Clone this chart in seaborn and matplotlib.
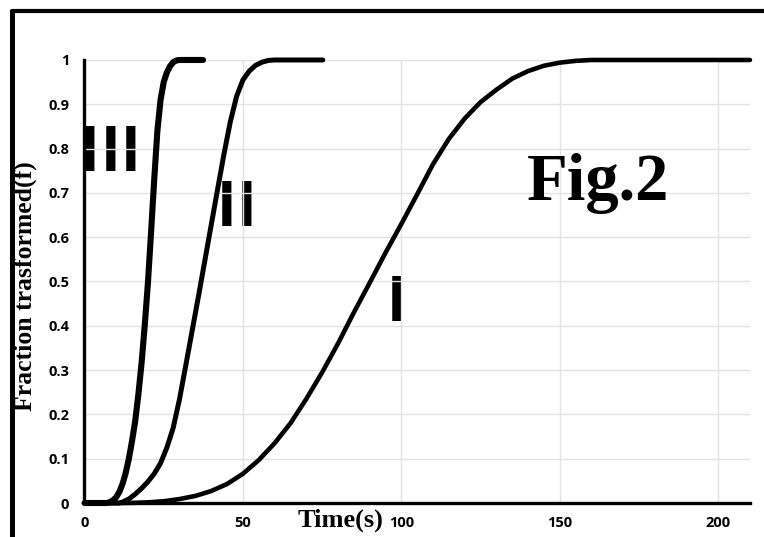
import pandas as pd
import seaborn as sns
import matplotlib.pyplot as plt
from matplotlib.lines import Line2D

# curve III (fastest)
t_3 = [0, 7, 8, 9, 10, 11, 12, 13, 14, 15, 16, 17, 18, 19, 20, 21, 22, 23, 24, 25, 26, 27, 28, 29, 30, 37.4]
f_3 = [0, 0, 0.002, 0.006, 0.013, 0.025, 0.043, 0.068, 0.10, 0.14, 0.185, 0.245, 0.315, 0.40, 0.495, 0.61, 0.73, 0.84, 0.91, 0.95, 0.972, 0.986, 0.995, 0.999, 1.0, 1.0]

# curve II
t_2 = [0, 11, 12, 14, 16, 18, 20, 22, 24, 26, 28, 30, 32, 34, 36, 38, 40, 42, 44, 46, 48, 50, 52, 54, 56, 58, 60, 75.2]
f_2 = [0, 0, 0.002, 0.009, 0.02, 0.033, 0.048, 0.066, 0.09, 0.125, 0.17, 0.235, 0.312, 0.39, 0.468, 0.548, 0.628, 0.708, 0.787, 0.86, 0.918, 0.955, 0.975, 0.988, 0.995, 0.999, 1.0, 1.0]

# curve I (slowest)
t_1 = [0, 10, 15, 20, 25, 30, 35, 40, 45, 50, 55, 60, 65, 70, 75, 80, 85, 90, 95, 100, 105, 110, 115, 120, 125, 130, 135, 140, 145, 150, 155, 160, 210]
f_1 = [0, 0, 0.0003, 0.0015, 0.004, 0.009, 0.016, 0.027, 0.043, 0.066, 0.097, 0.135, 0.18, 0.235, 0.295, 0.36, 0.43, 0.497, 0.565, 0.63, 0.697, 0.765, 0.822, 0.868, 0.905, 0.933, 0.958, 0.975, 0.987, 0.994, 0.998, 1.0, 1.0]

x_ticks = [0, 50, 100, 150, 200]
y_ticks = [0, 0.1, 0.2, 0.3, 0.4, 0.5, 0.6, 0.7, 0.8, 0.9, 1]
y_tick_labels = ['0', '0.1', '0.2', '0.3', '0.4', '0.5', '0.6', '0.7', '0.8', '0.9', '1']

# roman numeral labels: (x, baseline y)
roman_x = [1.7, 8.4, 14.7, 45.0, 51.1, 98.6]
roman_y = [0.75, 0.75, 0.75, 0.625, 0.625, 0.41]

sns.set_style("white")
plt.rcParams['font.family'] = ['Open Sans', 'DejaVu Sans']
plt.rcParams['text.color'] = 'black'
plt.rcParams['axes.labelcolor'] = 'black'

fig = plt.figure(figsize=(7.64, 5.37), dpi=100)
ax = fig.add_axes([0.1106, 0.0633, 0.871, 0.825])

curves = [(t_3, f_3, 4.4), (t_2, f_2, 3.6), (t_1, f_1, 3.3)]
for t, f, lw in curves:
    df = pd.DataFrame({'t': t, 'f': f})
    sns.lineplot(data=df, x='t', y='f', ax=ax, color='black', linewidth=lw,
                 estimator=None, sort=False, clip_on=False, zorder=3)

ax.set_xlim(0, 210)
ax.set_ylim(0, 1)
ax.set_xticks(x_ticks)
ax.set_xticklabels([str(v) for v in x_ticks])
ax.set_yticks(y_ticks)
ax.set_yticklabels(y_tick_labels)
for lab in ax.get_xticklabels() + ax.get_yticklabels():
    lab.set_fontweight('bold')
    lab.set_fontsize(10.5)

ax.grid(True, color='#e2e2e2', linewidth=1.0)
ax.set_axisbelow('line')
for s in ['top', 'right']:
    ax.spines[s].set_visible(False)
for s in ['left', 'bottom']:
    ax.spines[s].set_color('black')
    ax.spines[s].set_linewidth(2.4)
ax.tick_params(axis='y', direction='out', length=3, width=2.2, pad=8, colors='black')
ax.tick_params(axis='x', direction='in', length=4, width=2.2, pad=9, colors='black')

ax.set_xlabel('Time(s)', family='Liberation Serif', fontweight='bold', fontsize=19)
ax.xaxis.set_label_coords(0.384, -0.012)
ax.set_ylabel('Fraction trasformed(f)', family='Liberation Serif', fontweight='bold', fontsize=18.5)
ax.yaxis.set_label_coords(-0.089, 0.49)
ax.yaxis.label.set_va('center')

for x, y in zip(roman_x, roman_y):
    ax.text(x, y, 'I', family='Liberation Sans', fontweight='bold', fontsize=46,
            color='black', ha='center', va='baseline', zorder=1)

ax.text(139.6, 0.684, 'Fig.2', family='Liberation Serif', fontweight='bold',
        fontsize=48, color='black', ha='left', va='baseline')

# thick frame on top and left
fig.add_artist(Line2D([0.0163, 1.0], [0.9795, 0.9795], color='black', linewidth=3.0, transform=fig.transFigure))
fig.add_artist(Line2D([0.0163, 0.0163], [0.0, 0.9795], color='black', linewidth=3.6, transform=fig.transFigure))

fig.savefig('out.png', dpi=100)
